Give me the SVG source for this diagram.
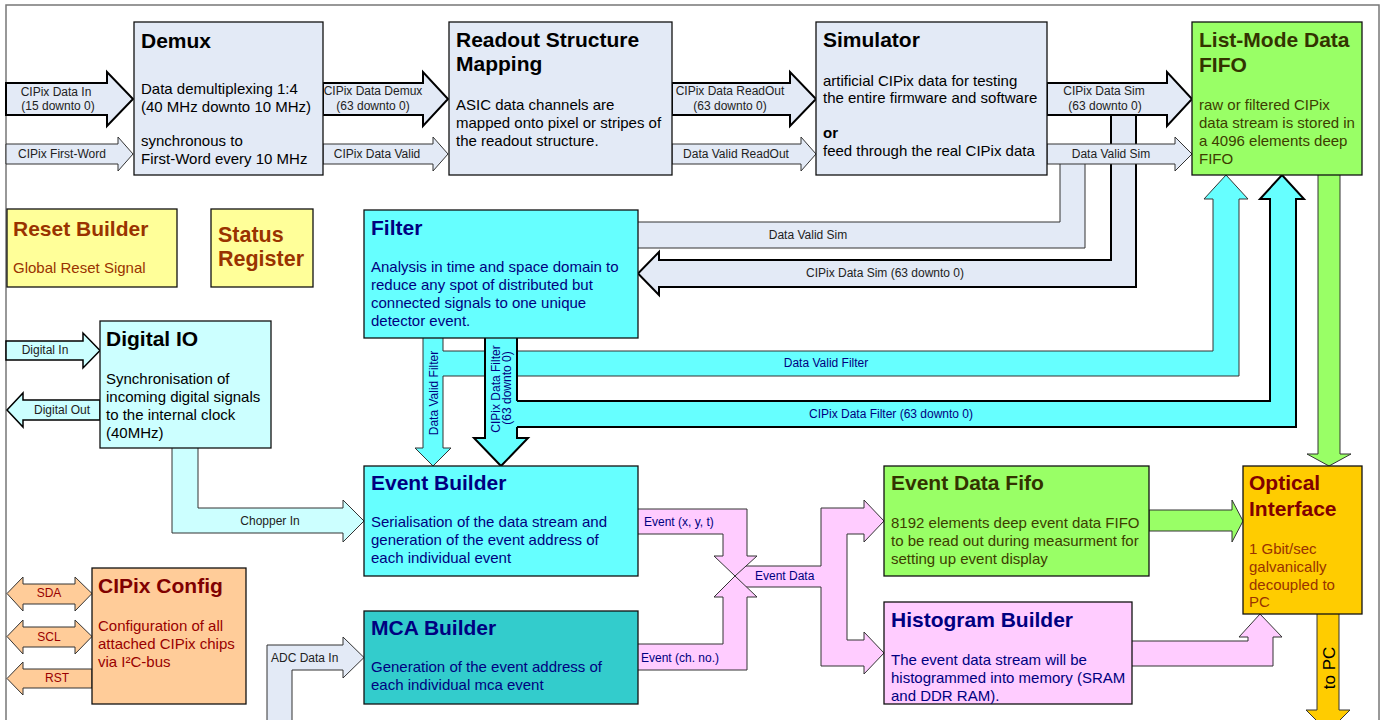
<svg xmlns="http://www.w3.org/2000/svg" width="1387" height="720" viewBox="0 0 1387 720">
<style>
.t{font-family:"Liberation Sans",Arial,sans-serif}
.title{font-size:21px;font-weight:bold}
.body{font-size:15px}
.lbl{font-size:12px;fill:#222}
.mid{text-anchor:middle}
.box{stroke:#111;stroke-width:1.3}
.sk{stroke:#000;stroke-width:2;stroke-linejoin:miter}
.sn{stroke:#333;stroke-width:1}
.so{fill:none}
.gb{fill:#E3EAF6}.cy{fill:#66FFFF}.lc{fill:#CCFFFF}.gr{fill:#99FF66}.ye{fill:#FFFF99}
.or{fill:#FFCC99}.go{fill:#FFCC00}.pk{fill:#FFCCFF}.tl{fill:#33CCCC}
.navy{fill:#000080}.brown{fill:#993300}.olive{fill:#333300}.dred{fill:#800000}.red{fill:#990000}.blk{fill:#000}
</style>
<rect x="6" y="5" width="1373" height="730" fill="#fff" stroke="#777" stroke-width="1.5"/>

<g id="connectors">
  <!-- Sim branches -->
  <path class="gb" d="M1111,110 V260 H659 V252 L638,273.5 L659,295 V287 H1136 V110 Z"/>
  <path class="sk so" d="M1111,115 V260 H659 V252 L638,273.5 L659,295 V287 H1136 V115"/>
  <path class="gb" d="M1060,160 V222 H638 V248 H1085 V160 Z"/>
  <path class="sn so" d="M1060,164 V222 H638 M638,248 H1085 V164"/>
  <!-- top row arrows -->
  <path class="gb sk" d="M6,83 H107 V72 L133,99 L107,126 V115 H6 Z"/>
  <path class="gb sn" d="M6,144 H118 V137 L133,154 L118,171 V164 H6 Z"/>
  <path class="gb sk" d="M323,83 H423 V72 L448,99 L423,126 V115 H323 Z"/>
  <path class="gb sn" d="M323,144 H433 V137 L448,154 L433,171 V164 H323 Z"/>
  <path class="gb sk" d="M672,83 H790 V72 L816,99 L790,126 V115 H672 Z"/>
  <path class="gb sn" d="M672,144 H801 V137 L816,154 L801,171 V164 H672 Z"/>
  <path class="gb sk" d="M1047,83 H1167 V72 L1192,99 L1167,126 V115 H1047 Z"/>
  <path class="gb sn" d="M1047,144 H1175 V137 L1192,154 L1175,171 V164 H1047 Z"/>
  <g class="t lbl mid">
    <text x="56" y="96">CIPix Data In</text>
    <text x="58" y="110">(15 downto 0)</text>
    <text x="62" y="158">CIPix First-Word</text>
    <text x="373" y="95">CIPix Data Demux</text>
    <text x="373" y="110">(63 downto 0)</text>
    <text x="377" y="158">CIPix Data Valid</text>
    <text x="730" y="95">CIPix Data ReadOut</text>
    <text x="730" y="110">(63 downto 0)</text>
    <text x="736" y="158">Data Valid ReadOut</text>
    <text x="1104" y="95">CIPix Data Sim</text>
    <text x="1105" y="110">(63 downto 0)</text>
    <text x="1111" y="158">Data Valid Sim</text>
    <text x="808" y="239">Data Valid Sim</text>
    <text x="885" y="277">CIPix Data Sim (63 downto 0)</text>
  </g>
  <!-- Filter outputs -->
  <path class="cy sn" d="M423,338 V448 H415 L433,466 L451,448 H443 V338"/>
  <path class="cy" d="M441,351 H1213 V199 H1204 L1226,175 L1248,199 H1239 V376 H441 Z"/>
  <path class="sn so" d="M443,351 H1213 V199 H1204 L1226,175 L1248,199 H1239 V376 H443"/>
  <path class="cy sk" d="M485,338 V438 H474 L501,466 L528,438 H517 V338"/>
  <path class="cy" d="M515,401 H1270 V199 H1260 L1282,175 L1304,199 H1296 V427 H515 Z"/>
  <path class="sk so" d="M517,401 H1270 V199 H1260 L1282,175 L1304,199 H1296 V427 H517"/>
  <g class="t" font-size="12" fill="#000080">
    <text transform="translate(438,393) rotate(-90)" text-anchor="middle">Data Valid Filter</text>
    <text transform="translate(500,389) rotate(-90)" text-anchor="middle">CIPix Data Filter</text>
    <text transform="translate(511,388) rotate(-90)" text-anchor="middle">(63 downto 0)</text>
    <text x="826" y="367" text-anchor="middle">Data Valid Filter</text>
    <text x="891" y="418" text-anchor="middle">CIPix Data Filter (63 downto 0)</text>
  </g>
  <!-- FIFO to optical -->
  <path class="gr sn" d="M1318,175 V454 H1307 L1329,466 L1351,454 H1340 V175"/>
  <!-- Digital IO -->
  <path class="lc" d="M6,341 H83 V333 L100,350.5 L83,368 V360 H6 Z" stroke="#000" stroke-width="1.5"/>
  <path class="lc" d="M100,400 H23 V393 L7,410 L23,427 V420 H100 Z" stroke="#000" stroke-width="1.5"/>
  <path class="lc" d="M172,448 V533 H343 V542 L364,521 L343,500 V508 H198 V448 Z"/>
  <path class="sn so" d="M172,448 V533 H343 V542 L364,521 L343,500 V508 H198 V448"/>
  <g class="t lbl mid">
    <text x="45" y="354">Digital In</text>
    <text x="62" y="414">Digital Out</text>
    <text x="270" y="525">Chopper In</text>
  </g>
  <!-- CIPix Config arrows -->
  <path class="or sn" d="M7,593.5 L23,577 V584 H75 V577 L92,593.5 L75,611 V604 H23 V611 Z"/>
  <path class="or sn" d="M7,636.5 L23,620 V627 H75 V620 L92,636.5 L75,654 V647 H23 V654 Z"/>
  <path class="or sn" d="M92,669 H23 V662 L7,678.5 L23,695 V688 H92 Z"/>
  <g class="t red mid" font-size="12">
    <text x="49" y="597">SDA</text>
    <text x="49" y="641">SCL</text>
    <text x="57" y="682">RST</text>
  </g>
  <!-- ADC -->
  <path class="gb" d="M267,722 V645 H343 V637 L364,657.5 L343,678 V670 H292 V722 Z"/>
  <path class="sn so" d="M267,722 V645 H343 V637 L364,657.5 L343,678 V670 H292 V722"/>
  <text class="t lbl" x="271" y="662">ADC Data In</text>
  <!-- Event data -->
  <path class="pk" d="M735,566 H821 V508 H864 V500 L884,521 L864,542 V534 H847 V640 H864 V632 L884,653 L864,674 V666 H821 V587 H735 Z"/>
  <path class="sn so" d="M735,566 H821 V508 H864 V500 L884,521 L864,542 V534 H847 V640 H864 V632 L884,653 L864,674 V666 H821 V587 H735"/>
  <path class="pk" d="M638,509 H747 V556 H757 L735,576 L714,556 H723 V534 H638 Z"/>
  <path class="sn so" d="M638,509 H747 V556 H757 L735,576 L714,556 H723 V534 H638"/>
  <path class="pk" d="M638,670 H747 V597 H757 L735,576 L714,597 H723 V644 H638 Z"/>
  <path class="sn so" d="M638,670 H747 V597 H757 L735,576 L714,597 H723 V644 H638"/>
  <g class="t navy" font-size="12">
    <text x="644" y="526">Event (x, y, t)</text>
    <text x="641" y="662">Event (ch. no.)</text>
    <text x="755" y="580">Event Data</text>
  </g>
  <!-- to optical -->
  <path class="gr sn" d="M1149,510 H1232 V500 L1243,521 L1232,542 V531 H1149 Z"/>
  <path class="pk" d="M1132,641 H1248 V637 H1239 L1260,614 L1282,637 H1273 V666 H1132 Z"/>
  <path class="sn so" d="M1132,641 H1248 V637 H1239 L1260,614 L1282,637 H1273 V666 H1132"/>
  <path class="go sn" d="M1317,614 V710 H1306 L1328,732 L1350,710 H1339 V614"/>
  <text class="t blk" font-size="17" transform="translate(1335,668) rotate(-90)" text-anchor="middle">to PC</text>
</g>

<g id="demux">
  <rect class="box gb" x="134" y="22" width="189" height="153"/>
  <text class="t title blk" x="141" y="48">Demux</text>
  <g class="t body blk">
    <text x="141" y="94">Data demultiplexing 1:4</text>
    <text x="141" y="112">(40 MHz downto 10 MHz)</text>
    <text x="141" y="146">synchronous to</text>
    <text x="141" y="164">First-Word every 10 MHz</text>
  </g>
</g>
<g id="readout">
  <rect class="box gb" x="449" y="22" width="223" height="153"/>
  <text class="t title blk" x="456" y="47">Readout Structure</text>
  <text class="t title blk" x="456" y="71">Mapping</text>
  <g class="t body blk">
    <text x="456" y="110">ASIC data channels are</text>
    <text x="456" y="128">mapped onto pixel or stripes of</text>
    <text x="456" y="146">the readout structure.</text>
  </g>
</g>
<g id="simulator">
  <rect class="box gb" x="816" y="22" width="231" height="153"/>
  <text class="t title blk" x="823" y="47">Simulator</text>
  <g class="t body blk">
    <text x="823" y="86">artificial CIPix data for testing</text>
    <text x="823" y="103">the entire firmware and software</text>
    <text x="823" y="138" font-weight="bold">or</text>
    <text x="823" y="156">feed through the real CIPix data</text>
  </g>
</g>
<g id="listmode">
  <rect class="box gr" x="1192" y="22" width="170" height="153"/>
  <text class="t title olive" x="1199" y="47">List-Mode Data</text>
  <text class="t title olive" x="1199" y="72">FIFO</text>
  <g class="t body" fill="#3d3d00">
    <text x="1199" y="110">raw or filtered CIPix</text>
    <text x="1199" y="128">data stream is stored in</text>
    <text x="1199" y="146">a 4096 elements deep</text>
    <text x="1199" y="164">FIFO</text>
  </g>
</g>
<g id="reset">
  <rect class="box ye" x="7" y="209" width="170" height="78"/>
  <text class="t title brown" x="13" y="236">Reset Builder</text>
  <text class="t body brown" x="13" y="273">Global Reset Signal</text>
</g>
<g id="status">
  <rect class="box ye" x="211" y="209" width="102" height="78"/>
  <text class="t brown" font-size="21.5" font-weight="bold" x="218" y="242">Status</text>
  <text class="t brown" font-size="21.5" font-weight="bold" x="218" y="266">Register</text>
</g>
<g id="filter">
  <rect class="box cy" x="364" y="210" width="274" height="128"/>
  <text class="t title navy" x="371" y="235">Filter</text>
  <g class="t body navy">
    <text x="371" y="272">Analysis in time and space domain to</text>
    <text x="371" y="290">reduce any spot of distributed but</text>
    <text x="371" y="308">connected signals to one unique</text>
    <text x="371" y="326">detector event.</text>
  </g>
</g>
<g id="digitalio">
  <rect class="box lc" x="100" y="321" width="171" height="127"/>
  <text class="t title blk" x="106" y="346">Digital IO</text>
  <g class="t body blk">
    <text x="106" y="384">Synchronisation of</text>
    <text x="106" y="402">incoming digital signals</text>
    <text x="106" y="420">to the internal clock</text>
    <text x="106" y="438">(40MHz)</text>
  </g>
</g>
<g id="eventbuilder">
  <rect class="box cy" x="364" y="466" width="274" height="110"/>
  <text class="t title navy" x="371" y="490">Event Builder</text>
  <g class="t body navy">
    <text x="371" y="527">Serialisation of the data stream and</text>
    <text x="371" y="545">generation of the event address of</text>
    <text x="371" y="563">each individual event</text>
  </g>
</g>
<g id="mcabuilder">
  <rect class="box tl" x="364" y="611" width="274" height="93"/>
  <text class="t title navy" x="371" y="635">MCA Builder</text>
  <g class="t body navy">
    <text x="371" y="672">Generation of the event address of</text>
    <text x="371" y="690">each individual mca event</text>
  </g>
</g>
<g id="cipixconfig">
  <rect class="box or" x="92" y="568" width="154" height="136"/>
  <text class="t title dred" x="98" y="593">CIPix Config</text>
  <g class="t body red">
    <text x="98" y="631">Configuration of all</text>
    <text x="98" y="649">attached CIPix chips</text>
    <text x="98" y="667">via I²C-bus</text>
  </g>
</g>
<g id="eventfifo">
  <rect class="box gr" x="884" y="466" width="265" height="110"/>
  <text class="t title olive" x="891" y="490">Event Data Fifo</text>
  <g class="t body" fill="#3d3d00">
    <text x="891" y="528">8192 elements deep event data FIFO</text>
    <text x="891" y="546">to be read out during measurment for</text>
    <text x="891" y="564">setting up event display</text>
  </g>
</g>
<g id="histogram">
  <rect class="box pk" x="884" y="602" width="248" height="102"/>
  <text class="t title navy" x="891" y="627">Histogram Builder</text>
  <g class="t body navy">
    <text x="891" y="665">The event data stream will be</text>
    <text x="891" y="683">histogrammed into memory (SRAM</text>
    <text x="891" y="701">and DDR RAM).</text>
  </g>
</g>
<g id="optical">
  <rect class="box go" x="1243" y="466" width="119" height="148"/>
  <text class="t title dred" x="1249" y="490">Optical</text>
  <text class="t title dred" x="1249" y="516">Interface</text>
  <g class="t body brown">
    <text x="1249" y="554">1 Gbit/sec</text>
    <text x="1249" y="572">galvanically</text>
    <text x="1249" y="590">decoupled to</text>
    <text x="1249" y="607">PC</text>
  </g>
</g>
</svg>
